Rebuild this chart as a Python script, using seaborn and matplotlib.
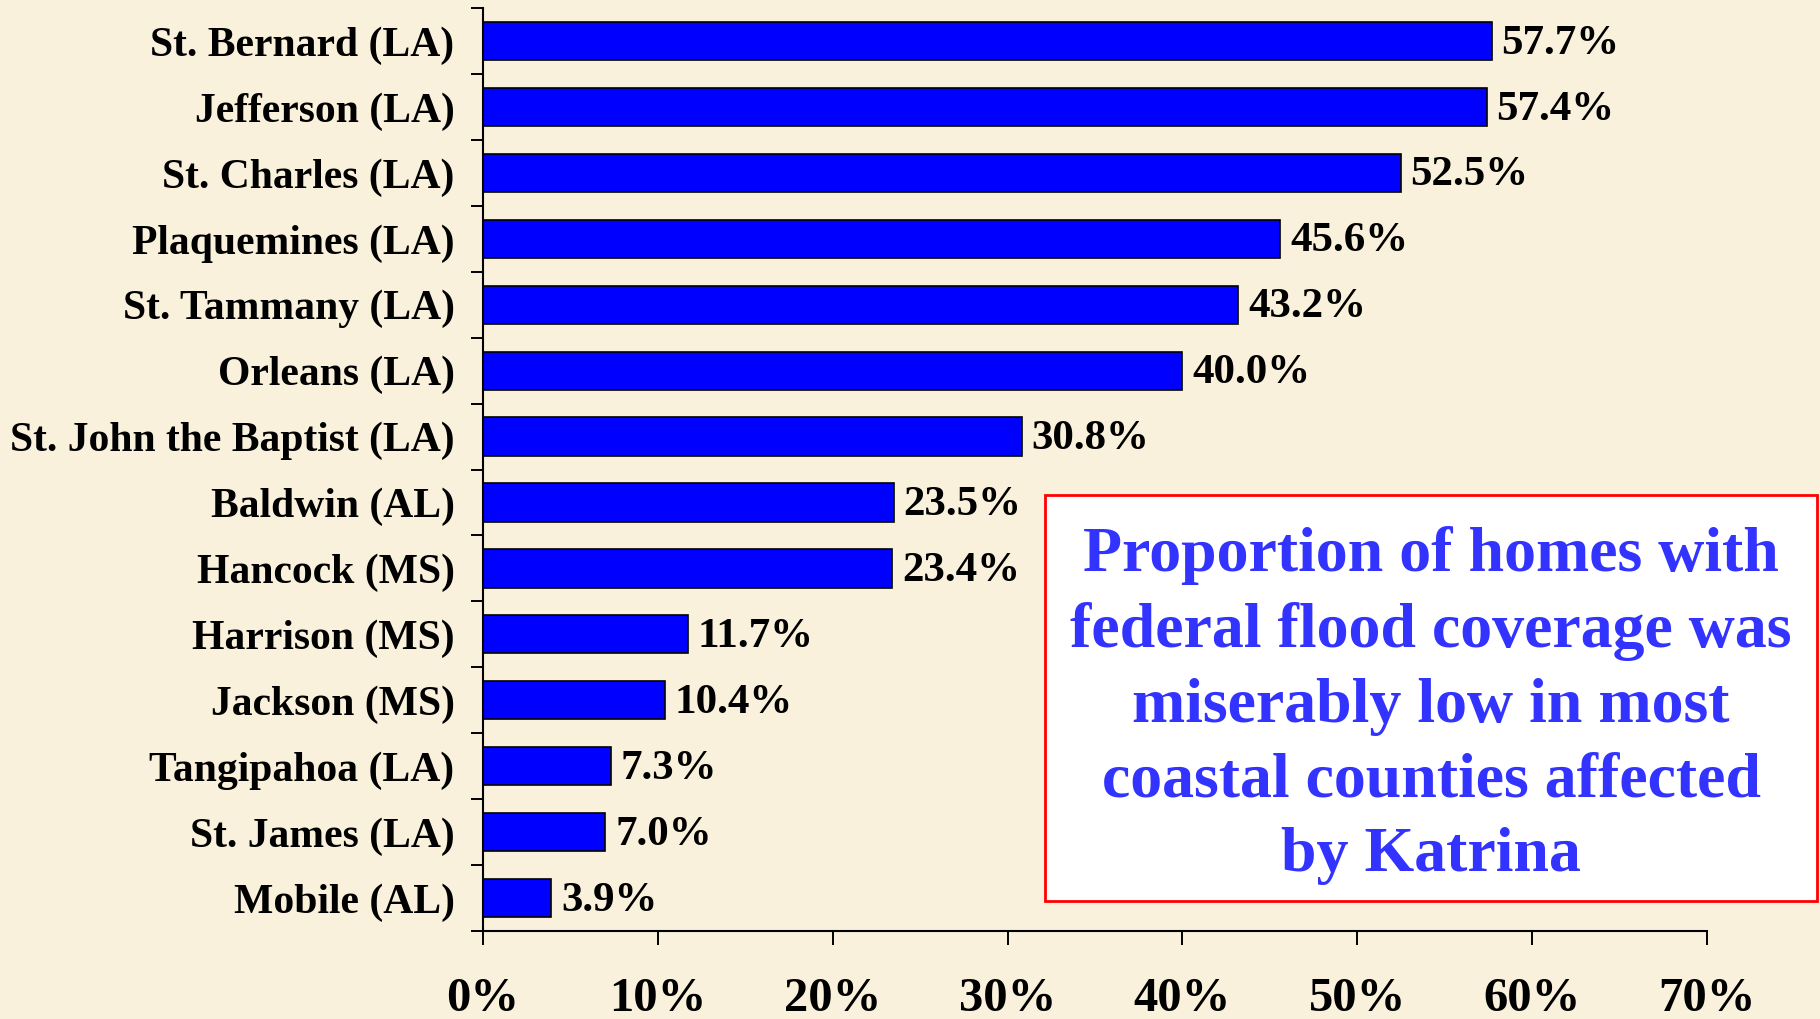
import numpy as np
import pandas as pd
import seaborn as sns
from matplotlib import pyplot as plt
from matplotlib.patches import Rectangle
from matplotlib.ticker import FixedLocator, PercentFormatter

counties = ['St. Bernard (LA)', 'Jefferson (LA)', 'St. Charles (LA)', 'Plaquemines (LA)',
            'St. Tammany (LA)', 'Orleans (LA)', 'St. John the Baptist (LA)', 'Baldwin (AL)',
            'Hancock (MS)', 'Harrison (MS)', 'Jackson (MS)', 'Tangipahoa (LA)',
            'St. James (LA)', 'Mobile (AL)']
coverage = [57.7, 57.4, 52.5, 45.6, 43.2, 40.0, 30.8, 23.5, 23.4, 11.7, 10.4, 7.3, 7.0, 3.9]
x_ticks = [0, 10, 20, 30, 40, 50, 60, 70]

df = pd.DataFrame({'county': counties, 'coverage': coverage})

bg = '#F9F1DB'
sns.set_style('ticks')
plt.rcParams['font.family'] = ['Liberation Serif', 'DejaVu Serif']
plt.rcParams['font.weight'] = 'bold'

fig = plt.figure(figsize=(18.2, 10.19), dpi=100, facecolor=bg)
ax = fig.add_axes([0.2654, 0.0864, 0.6725, 0.9057])
ax.set_facecolor(bg)

sns.barplot(data=df, x='coverage', y='county', orient='h', color='#0000FF',
            saturation=1, width=0.58, edgecolor='black', linewidth=1.2, ax=ax)

# value labels at the end of each bar
for i, v in enumerate(coverage):
    ax.text(v + 0.55, i + 0.04, f'{v:.1f}%', va='center', ha='left', fontsize=31,
            fontweight='bold', color='black')

ax.set_xlim(0, 70)
ax.set_ylim(len(counties) - 0.5, -0.5)
ax.set_xticks(x_ticks)
ax.xaxis.set_major_formatter(PercentFormatter(decimals=0))
ax.set_xlabel('')
ax.set_ylabel('')

# excel-style ticks between categories
ax.yaxis.set_minor_locator(FixedLocator(np.arange(-0.5, len(counties), 1.0)))
ax.tick_params(axis='y', which='major', length=0, pad=20.5, labelsize=30, labelcolor='black')
ax.tick_params(axis='y', which='minor', length=8.6, width=1.4, color='black')
ax.tick_params(axis='x', which='major', length=10, width=1.4, pad=23, labelsize=35,
               color='black', labelcolor='black')
for lab in ax.get_yticklabels() + ax.get_xticklabels():
    lab.set_fontweight('bold')

sns.despine(ax=ax)
for side in ['left', 'bottom']:
    ax.spines[side].set_linewidth(1.5)
    ax.spines[side].set_color('black')

fig.patches.append(Rectangle((0.5742, 0.1158), 0.4242, 0.3984, transform=fig.transFigure,
                             facecolor='white', edgecolor='#FF0000', linewidth=2, zorder=5))
fig.text(0.7863, 0.3075,
         'Proportion of homes with\nfederal flood coverage was\nmiserably low in most\n'
         'coastal counties affected\nby Katrina',
         ha='center', va='center', fontsize=46, fontweight='bold', color='#3333FF',
         linespacing=1.38, zorder=6)

fig.savefig('out.png', dpi=100, facecolor=bg)
